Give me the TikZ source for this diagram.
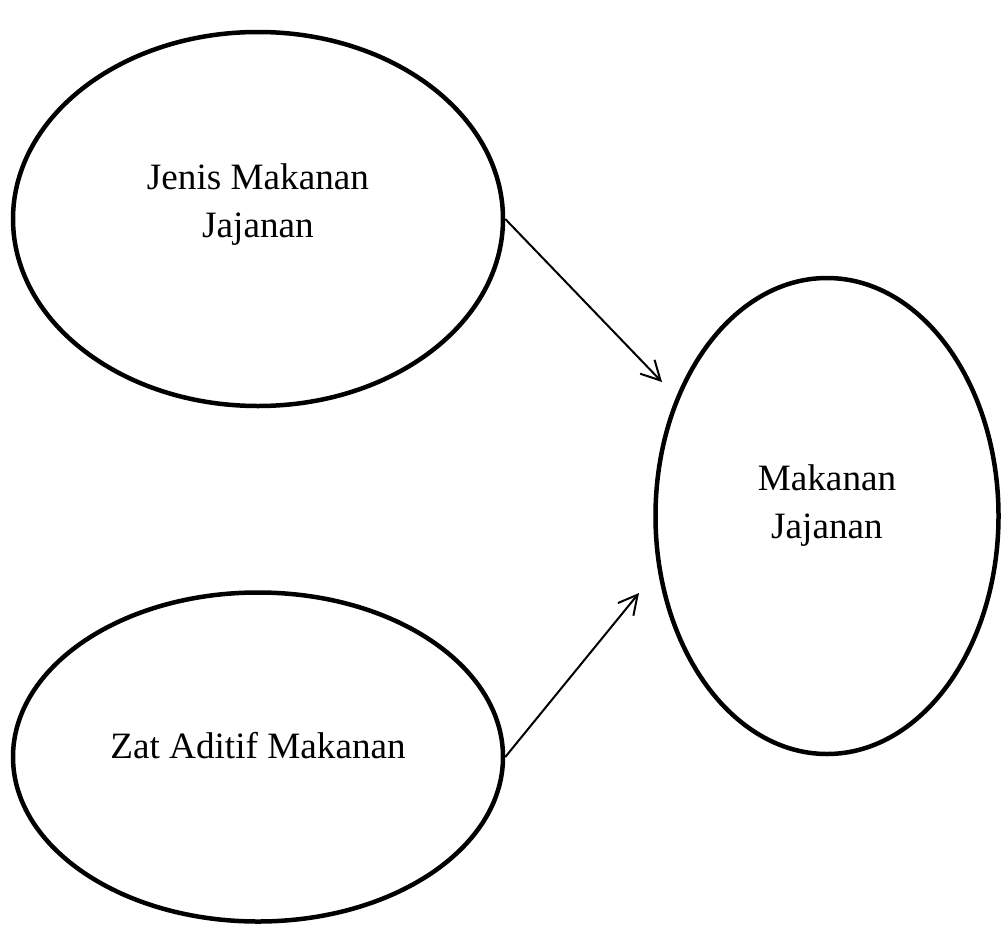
\documentclass[tikz,border=0pt]{standalone}
\usepackage{fontspec}
\setmainfont{Liberation Serif}
\usetikzlibrary{shapes.geometric,arrows.meta}

\begin{document}
\begin{tikzpicture}[x=0.5pt,y=-0.5pt,
    oval/.style={draw,ellipse,line width=2.25pt,inner sep=0pt},
    lbl/.style={align=center,font=\fontsize{18.6}{24}\selectfont},
    link/.style={line width=1pt,-{Straight Barb[length=9.5pt,width=10pt]}}]
    \useasboundingbox (0,0) rectangle (1001,926);
    % the three ovals
    \node[oval,minimum width=245pt,minimum height=187pt] (jenis) at (258,219) {};
    \node[oval,minimum width=245pt,minimum height=164.5pt] (zat) at (258,757) {};
    \node[oval,minimum width=171.5pt,minimum height=238pt] (makanan) at (827,516) {};
    \node[lbl] (jenistxt) at (258,205) {Jenis Makanan\\Jajanan};
    \node[lbl] (zattxt) at (258,746) {Zat Aditif Makanan};
    \node[lbl] (makanantxt) at (827,506) {Makanan\\Jajanan};
    % arrows
    \coordinate (tipa) at (662,382);
    \coordinate (tipb) at (639,593);
    \draw[link] (jenis.east) -- (tipa);
    \draw[link] (zat.east) -- (tipb);
\end{tikzpicture}
\end{document}
